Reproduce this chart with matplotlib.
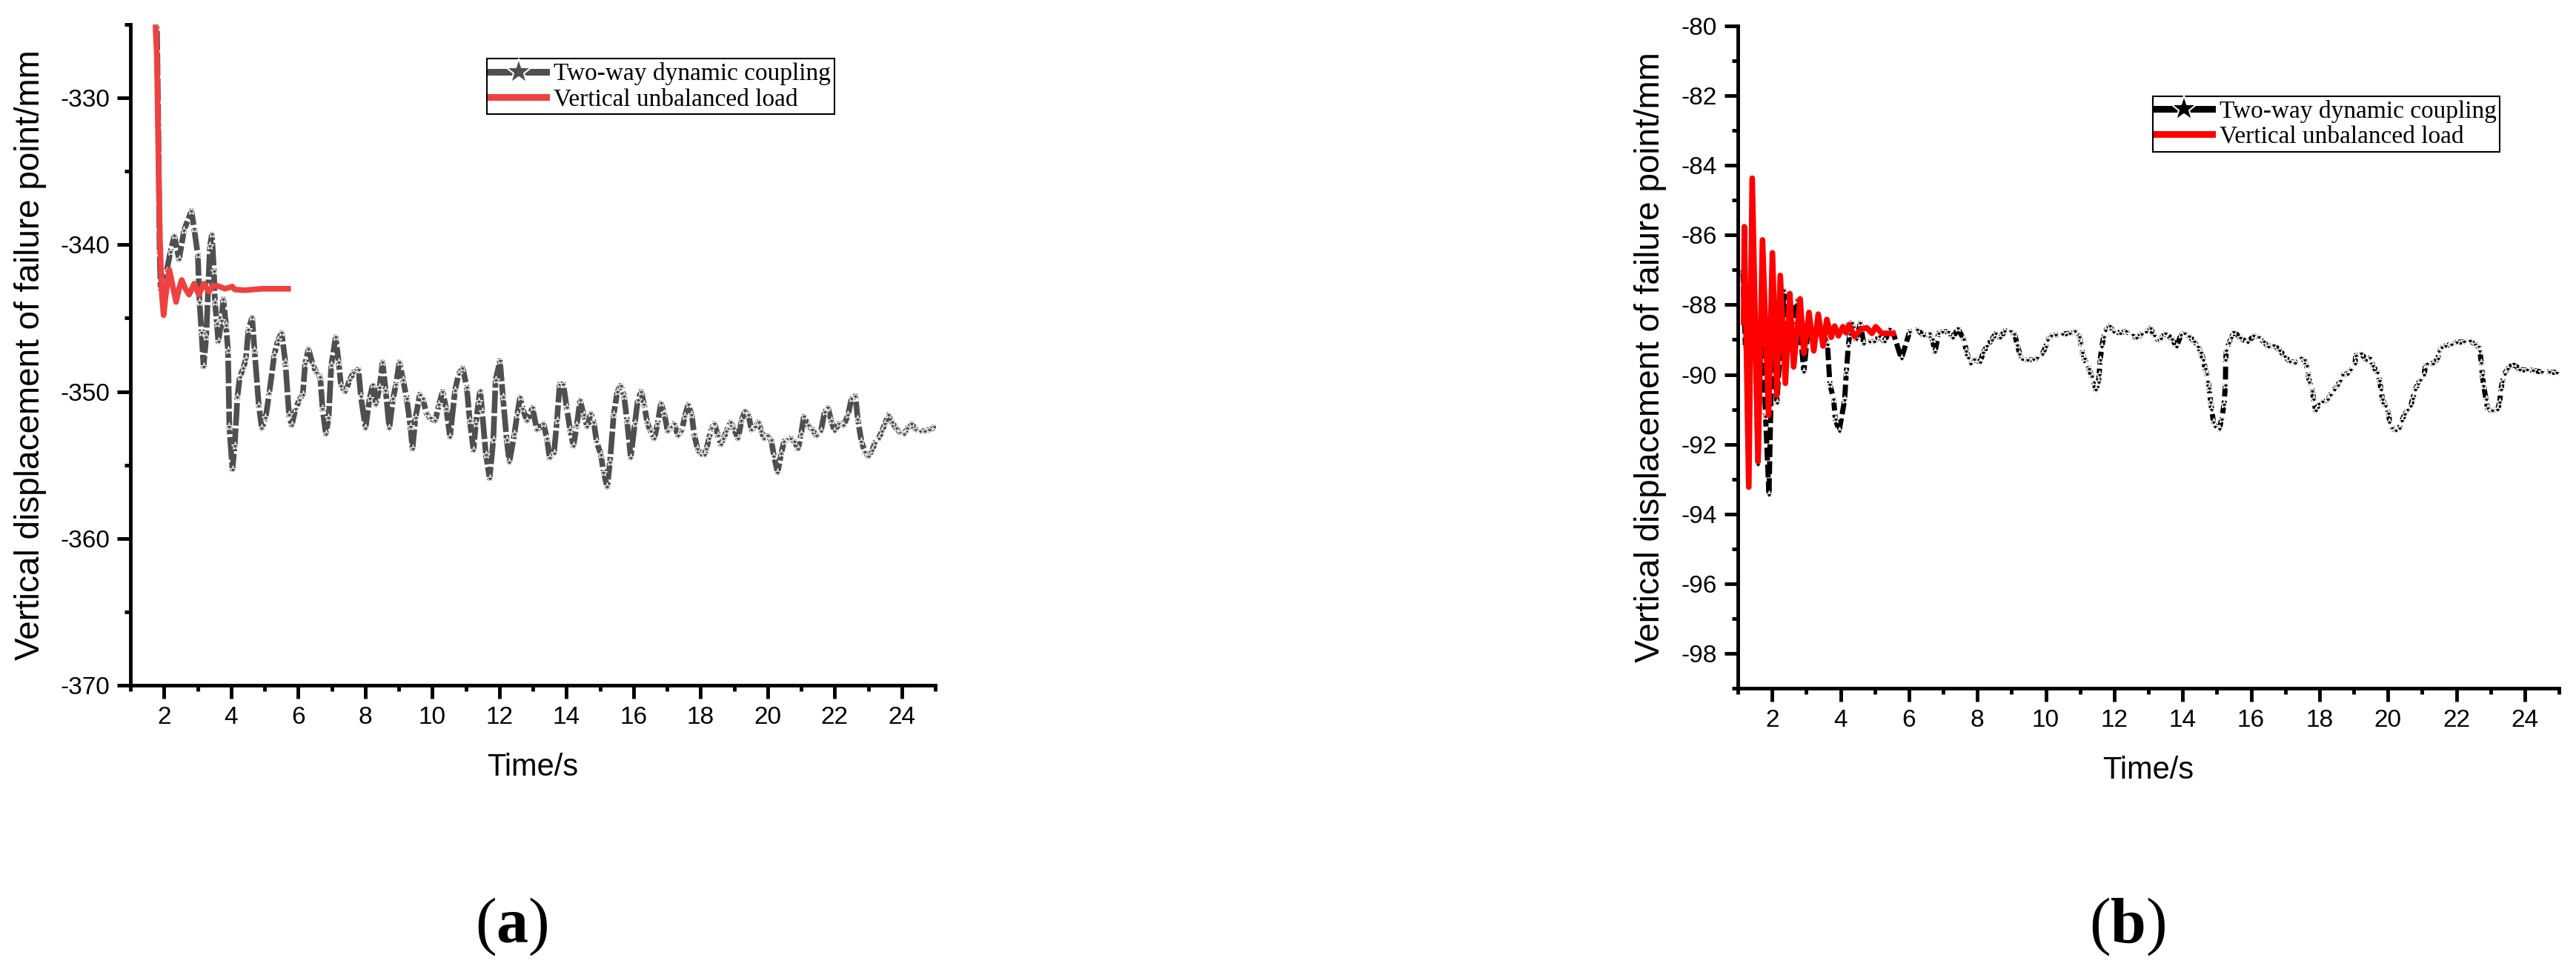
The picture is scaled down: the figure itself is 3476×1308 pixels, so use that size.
import matplotlib
matplotlib.use("Agg")
import matplotlib.pyplot as plt
from matplotlib.lines import Line2D
from matplotlib.ticker import MultipleLocator

plt.rcParams["font.family"] = ["Liberation Sans", "DejaVu Sans"]
plt.rcParams["axes.unicode_minus"] = False
plt.rcParams["mathtext.fontset"] = "custom"
plt.rcParams["mathtext.rm"] = "Liberation Serif"
plt.rcParams["mathtext.bf"] = "Liberation Serif:bold"

# ---- panel (a): values ----
t_a_coupled = [1.79, 1.83, 1.85, 1.87, 1.90, 1.98, 2.08, 2.19, 2.31, 2.45, 2.60, 2.82, 2.90, 3.01,
               3.06, 3.12, 3.18, 3.26, 3.32, 3.37, 3.43, 3.49, 3.52, 3.58, 3.62, 3.71, 3.77, 3.85,
               3.91, 3.95, 4.04, 4.11, 4.19, 4.26, 4.37, 4.44, 4.52, 4.63, 4.70, 4.83, 4.92, 5.03,
               5.14, 5.29, 5.40, 5.51, 5.62, 5.73, 5.81, 5.92, 6.03, 6.14, 6.21, 6.31, 6.44, 6.55,
               6.66, 6.73, 6.83, 6.91, 6.99, 7.12, 7.21, 7.28, 7.41, 7.54, 7.65, 7.80, 7.87, 8.01,
               8.13, 8.23, 8.32, 8.43, 8.52, 8.61, 8.72, 8.83, 8.92, 9.02, 9.13, 9.24, 9.35, 9.41,
               9.50, 9.63, 9.72, 9.83, 9.94, 10.09, 10.20, 10.31, 10.42, 10.53, 10.68, 10.79, 10.91,
               11.03, 11.12, 11.23, 11.30, 11.38, 11.43, 11.49, 11.60, 11.71, 11.82, 11.89, 12.02,
               12.11, 12.22, 12.30, 12.45, 12.53, 12.62, 12.70, 12.83, 12.99, 13.12, 13.32, 13.42,
               13.50, 13.63, 13.72, 13.80, 13.91, 14.01, 14.11, 14.21, 14.31, 14.41, 14.52, 14.62,
               14.73, 14.82, 14.90, 15.03, 15.11, 15.22, 15.30, 15.41, 15.52, 15.62, 15.72, 15.81,
               15.92, 16.04, 16.13, 16.23, 16.32, 16.41, 16.51, 16.62, 16.72, 16.82, 16.92, 17.02,
               17.13, 17.21, 17.33, 17.44, 17.53, 17.63, 17.74, 17.81, 17.91, 18.02, 18.12, 18.18,
               18.25, 18.33, 18.42, 18.52, 18.61, 18.69, 18.77, 18.90, 18.99, 19.12, 19.22, 19.33,
               19.43, 19.52, 19.63, 19.73, 19.81, 19.90, 20.01, 20.11, 20.19, 20.30, 20.41, 20.49,
               20.60, 20.70, 20.80, 20.91, 21.00, 21.08, 21.21, 21.34, 21.46, 21.59, 21.70, 21.80,
               21.90, 22.00, 22.12, 22.27, 22.40, 22.50, 22.62, 22.69, 22.80, 22.90, 23.01, 23.12,
               23.20, 23.31, 23.41, 23.50, 23.60, 23.71, 23.84, 23.96, 24.07, 24.17, 24.30, 24.43,
               24.55, 24.68, 24.83, 24.98]
v_a_coupled = [-325.2, -331.5, -336.0, -340.5, -343.0, -342.5, -341.8, -340.5, -339.4, -341.0,
               -339.0, -337.7, -338.9, -340.7, -343.9, -346.0, -348.3, -346.3, -342.9, -340.1,
               -339.3, -341.8, -343.9, -345.4, -346.6, -345.2, -343.7, -345.5, -347.2, -352.4,
               -355.3, -353.7, -350.4, -349.0, -348.4, -347.8, -345.8, -344.95, -347.2, -351.0,
               -352.5, -351.8, -350.1, -347.5, -346.5, -346.0, -348.0, -351.6, -352.3, -351.2,
               -350.6, -350.2, -348.1, -347.1, -348.2, -348.7, -349.0, -351.2, -352.9, -351.8,
               -348.2, -346.3, -348.0, -349.6, -350.0, -349.2, -348.7, -348.5, -350.3, -352.5,
               -350.5, -349.5, -350.9, -349.7, -348.0, -349.9, -352.5, -350.5, -349.5, -348.0,
               -349.2, -350.5, -352.4, -353.9, -351.8, -350.2, -350.5, -351.5, -351.8, -352.0,
               -350.9, -350.0, -351.2, -353.1, -349.9, -348.8, -348.4, -349.7, -352.0, -354.0,
               -352.2, -350.7, -349.9, -351.4, -354.3, -355.9, -353.3, -349.2, -347.9, -350.4,
               -353.3, -354.8, -352.9, -351.6, -350.4, -351.2, -352.0, -351.1, -352.6, -352.2,
               -353.2, -354.5, -354.2, -352.0, -349.5, -349.5, -351.1, -352.6, -353.7, -352.3,
               -350.6, -351.6, -352.4, -351.5, -352.1, -353.4, -354.3, -355.5, -356.5, -354.8,
               -351.6, -350.0, -349.6, -350.3, -352.0, -354.5, -352.2, -350.6, -350.0, -350.9,
               -352.1, -352.7, -353.2, -352.2, -350.8, -351.5, -352.7, -352.4, -352.2, -353.0,
               -352.7, -351.7, -350.9, -351.6, -352.9, -353.9, -354.3, -354.3, -353.9, -353.2,
               -352.5, -352.2, -353.0, -353.6, -353.2, -352.7, -352.1, -352.5, -353.2, -352.0,
               -351.3, -351.6, -352.6, -352.4, -352.1, -352.7, -353.2, -353.0, -353.3, -354.4,
               -355.5, -354.2, -353.4, -353.2, -353.2, -353.4, -353.9, -352.9, -351.7, -352.3,
               -352.6, -353.0, -352.7, -351.4, -351.1, -352.0, -352.7, -352.2, -352.3, -351.6,
               -350.5, -350.3, -351.9, -353.4, -354.1, -354.4, -354.0, -353.5, -353.2, -352.7,
               -352.2, -351.6, -352.1, -352.5, -352.8, -352.9, -352.5, -352.2, -352.6, -352.7,
               -352.7, -352.6, -352.4]

t_a_vertical = [1.75, 1.79, 1.83, 1.88, 1.94, 1.99, 2.05, 2.16, 2.27, 2.36, 2.45, 2.53, 2.64,
                2.75, 2.90, 3.04, 3.19, 3.34, 3.47, 3.60, 3.82, 4.04, 4.11, 4.41, 4.92, 5.70]
v_a_vertical = [-325.2, -327.3, -333.3, -339.7, -343.5, -344.8, -343.5, -341.7, -342.9, -343.9,
                -343.0, -342.4, -343.0, -343.4, -342.65, -343.4, -342.65, -343.2, -342.8, -342.8,
                -343.0, -342.85, -343.05, -343.1, -343.0, -343.0]

# ---- panel (b) ----
t_b_coupled = [1.15, 1.22, 1.35, 1.47, 1.59, 1.70, 1.81, 1.91, 2.02, 2.14, 2.35, 2.50, 2.74, 2.93,
               3.05, 3.25, 3.45, 3.62, 3.69, 3.80, 3.85, 3.96, 4.12, 4.17, 4.23, 4.27, 4.33, 4.46,
               4.58, 4.68, 4.85, 4.99, 5.14, 5.29, 5.44, 5.53, 5.78, 6.02, 6.25, 6.44, 6.60, 6.69,
               6.76, 6.87, 6.98, 7.16, 7.29, 7.43, 7.61, 7.68, 7.74, 7.81, 7.92, 8.08, 8.17, 8.28,
               8.42, 8.53, 8.67, 8.80, 8.98, 9.09, 9.17, 9.24, 9.31, 9.47, 9.65, 9.76, 9.90, 10.00,
               10.05, 10.16, 10.30, 10.48, 10.70, 10.86, 10.99, 11.02, 11.07, 11.13, 11.26, 11.35,
               11.41, 11.46, 11.54, 11.56, 11.59, 11.64, 11.69, 11.74, 11.87, 11.99, 12.18, 12.34,
               12.54, 12.65, 12.81, 12.94, 13.06, 13.17, 13.30, 13.37, 13.50, 13.70, 13.82, 13.95,
               14.06, 14.20, 14.35, 14.45, 14.54, 14.61, 14.66, 14.71, 14.74, 14.78, 14.82, 14.85,
               14.90, 14.96, 15.07, 15.14, 15.21, 15.25, 15.26, 15.28, 15.36, 15.43, 15.50, 15.68,
               15.90, 16.08, 16.22, 16.37, 16.51, 16.66, 16.84, 16.98, 17.13, 17.29, 17.47, 17.56,
               17.63, 17.67, 17.71, 17.79, 17.83, 17.89, 17.99, 18.10, 18.25, 18.32, 18.43, 18.54,
               18.61, 18.68, 18.83, 18.92, 19.04, 19.06, 19.22, 19.37, 19.47, 19.57, 19.69, 19.76,
               19.80, 19.84, 19.93, 20.02, 20.05, 20.12, 20.23, 20.34, 20.41, 20.49, 20.59, 20.67,
               20.73, 20.80, 20.88, 20.96, 21.06, 21.10, 21.14, 21.32, 21.46, 21.50, 21.57, 21.68,
               21.86, 22.00, 22.22, 22.40, 22.55, 22.65, 22.69, 22.73, 22.76, 22.80, 22.87, 22.91,
               23.05, 23.21, 23.27, 23.30, 23.35, 23.41, 23.50, 23.67, 23.85, 24.06, 24.24, 24.50,
               24.71, 24.93]
v_b_coupled = [-87.0, -89.2, -87.5, -87.0, -92.58, -87.6, -91.2, -93.45, -88.3, -90.81, -87.58,
               -88.9, -87.86, -89.93, -88.7, -88.9, -88.75, -89.14, -90.28, -90.71, -91.28, -91.62,
               -90.74, -89.94, -89.18, -88.85, -88.52, -89.0, -88.52, -89.12, -89.06, -89.06,
               -88.9, -89.06, -88.70, -88.77, -89.55, -88.77, -88.72, -88.88, -88.83, -89.0,
               -89.36, -88.81, -88.78, -88.77, -88.95, -88.68, -89.0, -89.34, -89.52, -89.69,
               -89.57, -89.64, -89.38, -89.18, -89.01, -88.82, -88.95, -88.75, -88.75, -88.84,
               -89.16, -89.41, -89.57, -89.59, -89.57, -89.53, -89.41, -89.2, -89.02, -88.89,
               -88.87, -88.84, -88.82, -88.76, -88.92, -89.09, -89.38, -89.55, -89.84, -90.05,
               -90.22, -90.44, -90.22, -90.01, -89.59, -89.2, -88.92, -88.74, -88.61, -88.77,
               -88.81, -88.76, -88.87, -88.95, -88.84, -88.77, -88.67, -88.89, -89.02, -88.96,
               -88.81, -88.99, -89.2, -88.87, -88.81, -88.91, -89.06, -89.2, -89.38, -89.59,
               -89.84, -89.98, -90.2, -90.4, -90.8, -91.0, -91.36, -91.5, -91.57, -91.29, -90.86,
               -90.3, -89.59, -89.3, -89.09, -88.95, -88.77, -88.94, -89.08, -88.89, -88.93,
               -89.06, -89.2, -89.15, -89.3, -89.48, -89.62, -89.66, -89.53, -89.59, -89.76,
               -90.01, -90.22, -90.47, -90.72, -91.04, -90.83, -90.78, -90.72, -90.58, -90.44,
               -90.30, -90.19, -90.01, -89.98, -89.87, -89.69, -89.45, -89.39, -89.59, -89.52,
               -89.76, -89.94, -90.19, -90.44, -90.72, -90.90, -91.11, -91.36, -91.53, -91.6,
               -91.53, -91.32, -91.14, -91.0, -90.9, -90.68, -90.44, -90.26, -90.15, -90.01,
               -89.73, -89.69, -89.69, -89.55, -89.34, -89.23, -89.18, -89.13, -89.08, -89.06,
               -89.03, -89.13, -89.2, -89.34, -89.66, -90.01, -90.33, -90.72, -90.97, -91.04,
               -91.0, -90.79, -90.44, -90.2, -89.98, -89.84, -89.69, -89.86, -89.87, -89.88,
               -89.93, -89.93, -89.94]

t_b_vertical = [1.17, 1.19, 1.32, 1.42, 1.59, 1.72, 1.90, 2.01, 2.14, 2.24, 2.39, 2.52, 2.63,
                2.82, 2.93, 3.08, 3.22, 3.35, 3.49, 3.60, 3.73, 3.83, 3.94, 4.07, 4.16, 4.25,
                4.41, 4.60, 4.77, 4.92, 5.03, 5.21, 5.53]
v_b_vertical = [-88.5, -85.76, -93.23, -84.37, -92.49, -86.14, -91.17, -86.51, -90.60, -87.16,
                -90.25, -87.68, -89.78, -87.83, -89.39, -88.22, -89.32, -88.27, -89.18, -88.42,
                -88.93, -88.61, -88.89, -88.63, -88.80, -88.57, -88.91, -88.70, -88.66, -88.82,
                -88.63, -88.82, -88.82]

labels = ["Two-way dynamic coupling", "Vertical unbalanced load"]
panel_tags = [r"($\mathbf{a}$)", r"($\mathbf{b}$)"]
ylabel = "Vertical displacement of failure point/mm"
xlabel = "Time/s"

W, H = 3476, 1308
fig = plt.figure(figsize=(W / 100, H / 100), dpi=100)
ax_a = fig.add_axes([176 / W, 1 - 925 / H, 1086 / W, 892 / H])
ax_b = fig.add_axes([2345 / W, 1 - 929 / H, 1108 / W, 894 / H])


def style_axis(ax, ylim, ymajor, yminor, ylab_x):
    ax.set_xlim(1, 25)
    ax.set_ylim(*ylim)
    ax.xaxis.set_major_locator(MultipleLocator(2))
    ax.xaxis.set_minor_locator(MultipleLocator(1))
    ax.yaxis.set_major_locator(MultipleLocator(ymajor))
    ax.yaxis.set_minor_locator(MultipleLocator(yminor))
    for side in ("top", "right"):
        ax.spines[side].set_visible(False)
    for side in ("left", "bottom"):
        ax.spines[side].set_linewidth(3.5)
    ax.tick_params(which="major", direction="out", length=13, width=3.5,
                   labelsize=24, pad=7)
    ax.tick_params(which="minor", direction="out", length=6, width=3.5)
    ax.set_ylabel(ylabel, fontsize=33)
    ax.yaxis.label.set_va("center")
    ax.yaxis.set_label_coords(ylab_x, 0.5)
    ax.set_xlabel(xlabel, fontsize=30)
    ax.xaxis.set_label_coords(0.5, -0.102)


def add_legend(ax, dark, red, anchor):
    # star gets a white outline so the line stops short of it, as in the original
    handles = [
        Line2D([], [], color=dark, lw=6.5, marker="*", ms=26, mfc=dark,
               mec="white", mew=1.5),
        Line2D([], [], color=red, lw=6.5),
    ]
    leg = ax.legend(handles, labels, loc="upper left", bbox_to_anchor=anchor,
                    borderaxespad=0, prop={"family": "Liberation Serif", "size": 24},
                    fancybox=False, framealpha=1, edgecolor="black",
                    handlelength=2.25, handletextpad=0.3, borderpad=0.15,
                    labelspacing=0.1, numpoints=1)
    leg.get_frame().set_linewidth(1.5)


# panel (a)
dark_a, red_a = "#4f4f4f", "#f04141"
ax_a.plot(t_a_coupled, v_a_coupled, color=dark_a, lw=5.5, dashes=(4, 0.5),
          marker="*", ms=8, mfc=dark_a, mec="white", mew=0.8, zorder=2)
ax_a.plot(t_a_vertical, v_a_vertical, color=red_a, lw=5.5, zorder=3,
          solid_joinstyle="round")
style_axis(ax_a, (-370, -325), 10, 5, -0.124)
add_legend(ax_a, dark_a, red_a, (0.443, 0.948))

# panel (b)
dark_b, red_b = "black", "#ff0000"
ax_b.plot(t_b_coupled, v_b_coupled, color=dark_b, lw=5, dashes=(2.5, 0.8),
          marker="*", ms=8, mfc=dark_b, mec="white", mew=1.0, zorder=2)
ax_b.plot(t_b_vertical, v_b_vertical, color=red_b, lw=5.5, zorder=3,
          solid_joinstyle="round")
style_axis(ax_b, (-99, -80), 2, 1, -0.1065)
add_legend(ax_b, dark_b, red_b, (0.505, 0.894))

for x, tag in zip((690, 2871), panel_tags):
    fig.text(x / W, 1 - 1251 / H, tag, ha="center", va="center", fontsize=62,
             family="Liberation Serif")

fig.savefig("out.png", dpi=100, facecolor="white")
